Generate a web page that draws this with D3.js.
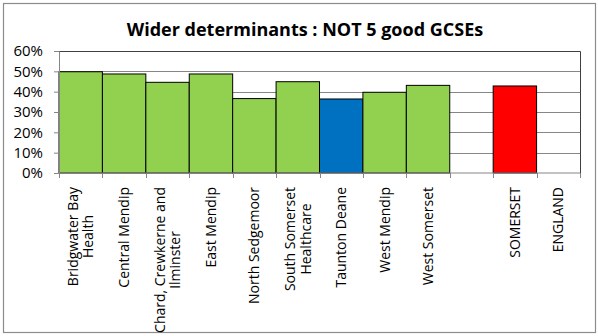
<!DOCTYPE html>
<html lang="en">
<head>
<meta charset="UTF-8">
<title>Wider determinants</title>
<script src="https://d3js.org/d3.v7.min.js"></script>
<style>
  body { margin: 0; background: #fff; }
  svg { display: block; font-family: "Open Sans", sans-serif; }
</style>
</head>
<body>
<div class="chart"></div>
<script>
// practice names (blank slot separates the practices from the totals)
const categories = [
  'Bridgwater Bay Health', 'Central Mendip', 'Chard, Crewkerne and Ilminster',
  'East Mendip', 'North Sedgemoor', 'South Somerset Healthcare', 'Taunton Deane',
  'West Mendip', 'West Somerset', '', 'SOMERSET', 'ENGLAND'
]
// wrapped label lines
const labelLines = [
  ['Bridgwater Bay', 'Health'], ['Central Mendip'], ['Chard, Crewkerne and', 'Ilminster'],
  ['East Mendip'], ['North Sedgemoor'], ['South Somerset', 'Healthcare'], ['Taunton Deane'],
  ['West Mendip'], ['West Somerset'], [''], ['SOMERSET'], ['ENGLAND']
]
const values = [0.498, 0.487, 0.446, 0.487, 0.366, 0.449, 0.364, 0.397, 0.431, null, 0.428, null]
const barColors = ['#92d050', '#92d050', '#92d050', '#92d050', '#92d050', '#92d050',
                   '#0070c0', '#92d050', '#92d050', 'none', '#ff0000', 'none']
const yTicks = [0, 0.1, 0.2, 0.3, 0.4, 0.5, 0.6]

const width = 598, height = 336
const margin = { left: 59, right: 18, top: 51, bottom: 163 }

const svg = d3.select('.chart').append('svg')
  .attr('width', width).attr('height', height)

// chart frame
svg.append('rect')
  .attr('x', 3.5).attr('y', 3.5).attr('width', 592).attr('height', 329)
  .attr('fill', '#fff').attr('stroke', '#8c8c8c').attr('stroke-width', 1.2)

svg.append('text')
  .attr('x', 305).attr('y', 36)
  .attr('text-anchor', 'middle')
  .style('font-size', '18px').style('font-weight', 'bold')
  .text('Wider determinants : NOT 5 good GCSEs')

const xScale = d3.scaleBand()
  .domain(d3.range(categories.length))
  .range([margin.left, width - margin.right])
  .padding(0)

const yScale = d3.scaleLinear()
  .domain([0, 0.6])
  .range([height - margin.bottom, margin.top])

// grid
svg.append('g')
  .selectAll('line')
  .data(yTicks.slice(1, -1))
  .join('line')
  .attr('x1', margin.left).attr('x2', width - margin.right)
  .attr('y1', d => Math.round(yScale(d)) + 0.5).attr('y2', d => Math.round(yScale(d)) + 0.5)
  .attr('stroke', '#868686')

// plot border top/right
svg.append('path')
  .attr('d', `M${margin.left},${Math.round(yScale(0.6)) + 0.5}H${width - margin.right + 0.5}V${height - margin.bottom}`)
  .attr('fill', 'none').attr('stroke', '#404040')

// bars
svg.append('g')
  .selectAll('rect')
  .data(values.map((v, i) => ({ v, i })).filter(d => d.v != null))
  .join('rect')
  .attr('x', d => xScale(d.i))
  .attr('y', d => yScale(d.v))
  .attr('width', xScale.bandwidth())
  .attr('height', d => yScale(0) - yScale(d.v))
  .attr('fill', d => barColors[d.i])
  .attr('stroke', '#000').attr('stroke-width', 1)

// y axis
const yAxis = d3.axisLeft(yScale)
  .tickValues(yTicks)
  .tickFormat(d3.format('.0%'))
  .tickSize(5)
const yAxisGroup = svg.append('g')
  .attr('transform', `translate(${margin.left},0)`)
  .call(yAxis)
yAxisGroup.select('.domain').attr('stroke', '#868686')
yAxisGroup.selectAll('.tick line').attr('stroke', '#868686')
yAxisGroup.selectAll('.tick text')
  .attr('x', -16)
  .style('font-size', '15px').style('font-family', '"Open Sans", sans-serif').attr('fill', '#000')

// x axis, ticks at category boundaries
const xAxisGroup = svg.append('g')
  .attr('transform', `translate(0,${height - margin.bottom})`)
xAxisGroup.append('line')
  .attr('x1', margin.left).attr('x2', width - margin.right)
  .attr('stroke', '#868686')
xAxisGroup.selectAll('line.tk')
  .data(d3.range(categories.length + 1))
  .join('line')
  .attr('class', 'tk')
  .attr('x1', i => Math.round(margin.left + i * xScale.step()) + 0.5)
  .attr('x2', i => Math.round(margin.left + i * xScale.step()) + 0.5)
  .attr('y1', 0).attr('y2', 5)
  .attr('stroke', '#868686')

// rotated category labels: block ends at the axis, lines centred within it
const lineH = 15.5
xAxisGroup.selectAll('text.lbl')
  .data(categories.map((c, i) => i))
  .join('text')
  .attr('class', 'lbl')
  .attr('transform', i => `translate(${xScale(i) + xScale.bandwidth() / 2},14) rotate(-90)`)
  .attr('text-anchor', 'middle')
  .style('font-size', '14px')
  .each(function (i) {
    const lines = labelLines[i]
    const t = d3.select(this)
    const spans = lines.map((l, k) => t.append('tspan')
      .attr('y', (k - (lines.length - 1) / 2) * lineH + 5)
      .text(l))
    const blockW = d3.max(spans, s => s.node().getComputedTextLength())
    spans.forEach(s => s.attr('x', -blockW / 2))
  })
</script>
</body>
</html>
